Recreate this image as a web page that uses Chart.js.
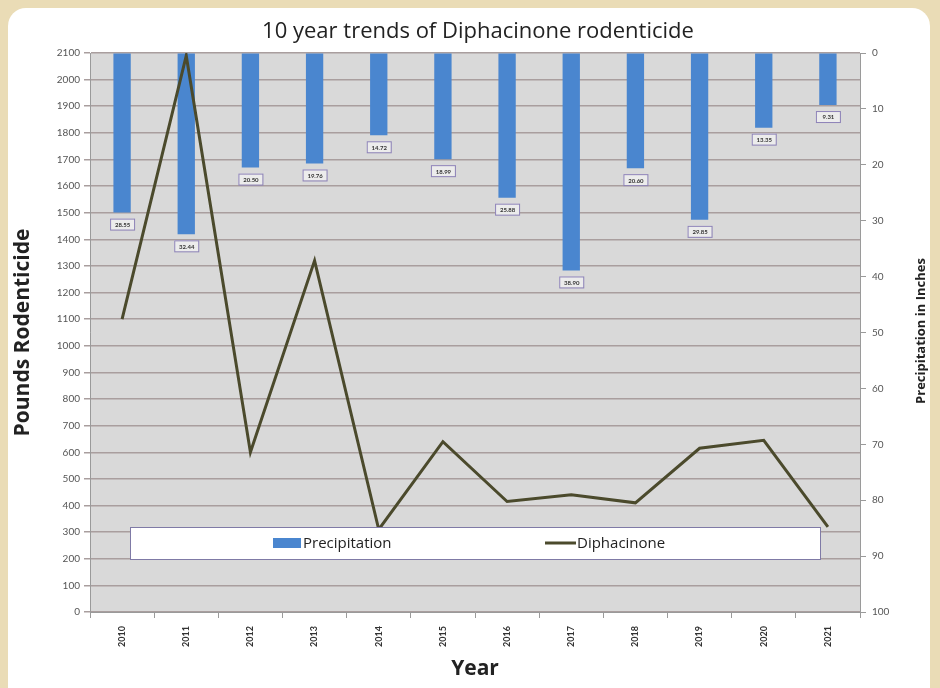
<!DOCTYPE html>
<html>

<head>
    <title>10 year trends of Diphacinone rodenticide</title>
    <script src="https://cdn.jsdelivr.net/npm/chart.js@4.4.2/dist/chart.umd.min.js"></script>
    <style>
        body {
            margin: 0;
            width: 940px;
            height: 688px;
            overflow: hidden;
            background: #eadcb6;
            font-family: "Lato", "Open Sans", Arial;
        }

        .card {
            position: absolute;
            left: 8px;
            top: 8px;
            width: 922px;
            height: 720px;
            background: #ffffff;
            border-radius: 18px;
        }

        .chartBox {
            position: absolute;
            left: 0;
            top: 0;
            width: 940px;
            height: 688px;
        }
    </style>
</head>

<body>
    <div class="card"></div>
    <div class="chartBox">
        <canvas id="trendChart" width="940" height="688"></canvas>
    </div>
    <script>
        var years = ['2010', '2011', '2012', '2013', '2014', '2015', '2016', '2017', '2018', '2019', '2020', '2021'];
        var precipitation = [28.55, 32.44, 20.50, 19.76, 14.72, 18.99, 25.88, 38.90, 20.60, 29.85, 13.35, 9.31];
        var diphacinone = [1100, 2090, 600, 1320, 310, 640, 415, 440, 410, 615, 645, 320];
        var poundsTicks = [0, 100, 200, 300, 400, 500, 600, 700, 800, 900, 1000, 1100, 1200, 1300, 1400, 1500, 1600, 1700, 1800, 1900, 2000, 2100];
        var inchTicks = [0, 10, 20, 30, 40, 50, 60, 70, 80, 90, 100];

        const barColor = '#4a86cf';
        const lineColor = '#4b4a2c';

        // titulo, rotulos das barras e legenda dentro do grafico
        const extras = {
            id: 'extras',
            beforeDraw(chart) {
                const { ctx, chartArea } = chart;
                ctx.save();
                ctx.fillStyle = '#d9d9d9';
                ctx.fillRect(chartArea.left, chartArea.top, chartArea.right - chartArea.left, chartArea.bottom - chartArea.top);
                ctx.restore();
            },
            afterDatasetsDraw(chart) {
                const { ctx, chartArea } = chart;
                ctx.save();

                // titulo
                ctx.fillStyle = '#222';
                ctx.font = '22px "Open Sans", Lato';
                ctx.textAlign = 'center';
                ctx.textBaseline = 'middle';
                ctx.fillText('10 year trends of Diphacinone rodenticide', (chartArea.left + chartArea.right) / 2 + 3, 32);

                // titulo do eixo direito (lido de baixo para cima)
                ctx.save();
                ctx.translate(921, 331);
                ctx.rotate(-Math.PI / 2);
                ctx.font = 'bold 13px "Open Sans", Lato';
                ctx.fillText('Precipitation in Inches', 0, 0);
                ctx.restore();

                // rotulos das barras
                const meta = chart.getDatasetMeta(0);
                meta.data.forEach((bar, i) => {
                    const txt = precipitation[i].toFixed(2);
                    const w = 24, h = 11;
                    const x = bar.x - w / 2;
                    const y = bar.y + 6;
                    ctx.fillStyle = '#ececec';
                    ctx.fillRect(x, y, w, h);
                    ctx.strokeStyle = '#8d82b8';
                    ctx.lineWidth = 1;
                    ctx.strokeRect(x + 0.5, y + 0.5, w, h);
                    ctx.fillStyle = '#333';
                    ctx.font = 'bold 6px Lato';
                    ctx.fillText(txt, bar.x + 0.5, y + h / 2 + 1);
                });

                // legenda
                const lx = chartArea.left + 40;
                const lr = chartArea.right - 40;
                const ly = chartArea.bottom - 85;
                const lh = 32;
                ctx.fillStyle = '#ffffff';
                ctx.fillRect(lx, ly, lr - lx, lh);
                ctx.strokeStyle = '#7f7aa6';
                ctx.lineWidth = 1;
                ctx.strokeRect(lx + 0.5, ly + 0.5, lr - lx, lh);

                const cy = ly + lh / 2;
                ctx.fillStyle = barColor;
                ctx.fillRect(273, cy - 5, 28, 10);
                ctx.strokeStyle = lineColor;
                ctx.lineWidth = 3;
                ctx.beginPath();
                ctx.moveTo(545, cy);
                ctx.lineTo(576, cy);
                ctx.stroke();

                ctx.fillStyle = '#222';
                ctx.font = '15px "Open Sans", Lato';
                ctx.textAlign = 'left';
                ctx.fillText('Precipitation', 303, cy + 1);
                ctx.fillText('Diphacinone', 577, cy + 1);
                ctx.restore();
            }
        };

        const ctx = document.getElementById('trendChart').getContext('2d');
        const trendChart = new Chart(ctx, {
            type: 'bar',
            data: {
                labels: years,
                datasets: [{
                    type: 'bar',
                    label: 'Precipitation',
                    data: precipitation,
                    yAxisID: 'y2',
                    backgroundColor: barColor,
                    barPercentage: 0.27,
                    categoryPercentage: 1,
                    order: 2
                }, {
                    type: 'line',
                    label: 'Diphacinone',
                    data: diphacinone,
                    yAxisID: 'y',
                    borderColor: lineColor,
                    backgroundColor: lineColor,
                    borderWidth: 3,
                    pointRadius: 0,
                    tension: 0,
                    order: 1
                }]
            },
            options: {
                responsive: false,
                animation: false,
                layout: {
                    padding: { top: 53, bottom: 0, left: 0, right: 0 }
                },
                plugins: {
                    legend: { display: false },
                    title: { display: false },
                    tooltip: { enabled: false }
                },
                scales: {
                    x: {
                        offset: true,
                        grid: {
                            display: true,
                            offset: true,
                            drawOnChartArea: false,
                            drawTicks: true,
                            tickLength: 6,
                            color: '#9a9a9a'
                        },
                        border: { color: '#9a9a9a' },
                        ticks: {
                            minRotation: 90,
                            maxRotation: 90,
                            color: '#333',
                            font: { family: 'Lato', size: 9, weight: 'bold' },
                            padding: 8
                        },
                        title: {
                            display: true,
                            text: 'Year',
                            color: '#222',
                            font: { family: '"Open Sans", Lato', size: 21, weight: 'bold' },
                            padding: { top: 2, bottom: 6 }
                        },
                        afterFit(scale) { scale.height = 76; }
                    },
                    y: {
                        position: 'left',
                        min: 0,
                        max: 2100,
                        afterBuildTicks(scale) {
                            scale.ticks = poundsTicks.map(v => ({ value: v }));
                        },
                        grid: {
                            color: '#a99e9e',
                            lineWidth: 1.5,
                            tickLength: 6
                        },
                        border: { color: '#9a9a9a' },
                        ticks: {
                            color: '#555',
                            font: { family: 'Lato', size: 10 },
                            padding: 4,
                            callback: (v) => String(v)
                        },
                        title: {
                            display: true,
                            text: 'Pounds Rodenticide',
                            color: '#222',
                            font: { family: '"Open Sans", Lato', size: 21, weight: 'bold' },
                            padding: { top: 10, bottom: 0 }
                        },
                        afterFit(scale) { scale.width = 90; }
                    },
                    y2: {
                        position: 'right',
                        reverse: true,
                        min: 0,
                        max: 100,
                        afterBuildTicks(scale) {
                            scale.ticks = inchTicks.map(v => ({ value: v }));
                        },
                        grid: {
                            drawOnChartArea: false,
                            color: '#9a9a9a',
                            tickLength: 6
                        },
                        border: { color: '#9a9a9a' },
                        ticks: {
                            color: '#555',
                            font: { family: 'Lato', size: 10 },
                            padding: 6,
                            callback: (v) => String(v)
                        },
                        afterFit(scale) { scale.width = 80; }
                    }
                }
            },
            plugins: [extras]
        });
    </script>
</body>

</html>
